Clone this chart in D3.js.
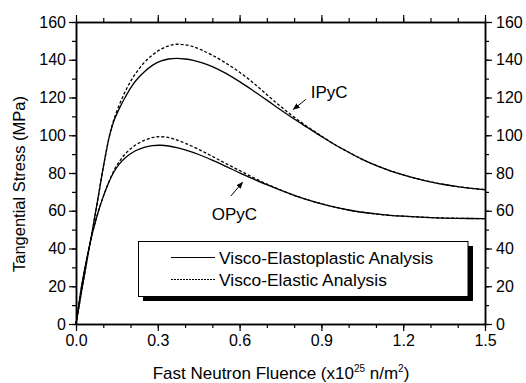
<!DOCTYPE html>
<html><head><meta charset="utf-8">
<script src="https://cdn.jsdelivr.net/npm/d3@7"></script>
<style>
body{margin:0;background:#fff;}
svg{font-family:"Liberation Sans",Arial,sans-serif;}
</style></head>
<body><svg id="c" width="526" height="383"></svg>
<script>
// ---- data ----
const xTicks = [0.0, 0.3, 0.6, 0.9, 1.2, 1.5];
const yTicks = [0, 20, 40, 60, 80, 100, 120, 140, 160];
const seriesNames = ["Visco-Elastoplastic Analysis", "Visco-Elastic Analysis"];

const ipycEPx = [0, 0.02, 0.04, 0.06, 0.08, 0.10, 0.12, 0.13, 0.14, 0.16, 0.18, 0.20, 0.22, 0.25, 0.28, 0.31, 0.34, 0.37, 0.40, 0.43, 0.46, 0.50, 0.55, 0.60, 0.65, 0.70, 0.75, 0.80, 0.85, 0.90, 0.95, 1.00, 1.05, 1.10, 1.15, 1.20, 1.25, 1.30, 1.35, 1.40, 1.45, 1.50];
const ipycEPy = [0, 17, 33.5, 49.5, 66, 83, 98, 103.5, 108, 114.5, 120, 125, 129, 133.5, 137, 139.3, 140.4, 140.7, 140.4, 139.7, 138.5, 136.4, 132.8, 128.4, 123.6, 118.6, 113.5, 108.6, 104, 99.4, 95.0, 91.0, 87.2, 84.0, 81.3, 79.0, 77.0, 75.3, 73.9, 72.8, 71.9, 71.2];

const ipycEx = [0, 0.02, 0.04, 0.06, 0.08, 0.10, 0.12, 0.13, 0.14, 0.16, 0.18, 0.20, 0.22, 0.25, 0.28, 0.31, 0.34, 0.37, 0.40, 0.43, 0.46, 0.50, 0.55, 0.60, 0.65, 0.70, 0.75, 0.80, 0.85, 0.90, 0.95, 1.00, 1.05, 1.10, 1.15, 1.20, 1.25, 1.30, 1.35, 1.40, 1.45, 1.50];
const ipycEy = [0, 17, 33.5, 49.5, 66, 83, 98, 104, 108.8, 116.5, 123, 128.5, 133, 138.5, 142.5, 145.5, 147.4, 148.2, 147.9, 146.9, 145.2, 142.4, 138.2, 133.4, 127.8, 121.5, 115.3, 109.6, 104.4, 99.6, 95.0, 91.0, 87.2, 84.0, 81.3, 79.0, 77.0, 75.3, 73.9, 72.8, 71.9, 71.2];

const opycEPx = [0, 0.01, 0.02, 0.04, 0.06, 0.08, 0.10, 0.12, 0.14, 0.16, 0.18, 0.20, 0.22, 0.25, 0.28, 0.31, 0.34, 0.37, 0.40, 0.45, 0.50, 0.55, 0.60, 0.65, 0.70, 0.75, 0.80, 0.85, 0.90, 0.95, 1.00, 1.05, 1.10, 1.15, 1.20, 1.30, 1.40, 1.50];
const opycEPy = [0, 10, 19.5, 35, 48, 58.7, 67.5, 75, 80.8, 85, 88, 90.2, 91.9, 93.6, 94.5, 94.7, 94.3, 93.4, 92.2, 89.8, 86.8, 83.5, 80.1, 76.9, 73.8, 70.9, 68.2, 65.8, 63.7, 61.9, 60.4, 59.2, 58.3, 57.6, 57.1, 56.4, 56.0, 55.8];

const opycEx = [0, 0.01, 0.02, 0.04, 0.06, 0.08, 0.10, 0.12, 0.14, 0.16, 0.18, 0.20, 0.22, 0.25, 0.28, 0.30, 0.33, 0.36, 0.40, 0.45, 0.50, 0.55, 0.60, 0.65, 0.70, 0.75, 0.80, 0.85, 0.90, 0.95, 1.00, 1.05, 1.10, 1.15, 1.20, 1.30, 1.40, 1.50];
const opycEy = [0, 10, 19.5, 35, 48, 58.7, 67.5, 75, 81.5, 86.3, 90, 92.8, 95, 97.3, 98.8, 99.2, 99, 98, 95.8, 92.5, 88.8, 85, 81.3, 77.6, 74.1, 71, 68.2, 65.8, 63.7, 61.9, 60.4, 59.2, 58.3, 57.6, 57.1, 56.4, 56.0, 55.8];

const labels = [
  {text: "IPyC", x: 0.861, y: 119.6, ax1: 0.843, ay1: 119.0, ax2: 0.797, ay2: 113.7},
  {text: "OPyC", x: 0.498, y: 55.1, ax1: 0.568, ay1: 67.8, ax2: 0.611, ay2: 75.1}
];

// ---- layout ----
const L = 76, R = 485, T = 22, B = 324;
const svg = d3.select("#c");
const x = d3.scaleLinear().domain([0, 1.5]).range([L, R]);
const y = d3.scaleLinear().domain([0, 160]).range([B, T]);

svg.append("defs").append("marker").attr("id", "ah")
  .attr("viewBox", "0 0 10 10").attr("refX", 9).attr("refY", 5)
  .attr("markerWidth", 7).attr("markerHeight", 7).attr("markerUnits", "userSpaceOnUse")
  .attr("orient", "auto")
  .append("path").attr("d", "M0,1 L10,5 L0,9 Z").attr("fill", "#000");

const minorX = d3.range(0, 1.5001, 0.1).map(v => +v.toFixed(2));
const minorY = d3.range(0, 160.01, 10);

function styleAxis(g) {
  g.select(".domain").attr("stroke", "#000").attr("stroke-width", 1.5);
  g.selectAll(".tick line").attr("stroke", "#000").attr("stroke-width", 1.2);
  g.selectAll(".tick text").attr("fill", "#000").attr("font-size", "16px");
}
// minor ticks
svg.append("g").attr("transform", `translate(0,${B})`)
  .call(d3.axisBottom(x).tickValues(minorX).tickSize(4).tickFormat("").tickSizeOuter(0)).call(styleAxis);
svg.append("g").attr("transform", `translate(0,${T})`)
  .call(d3.axisTop(x).tickValues(minorX).tickSize(4).tickFormat("").tickSizeOuter(0)).call(styleAxis);
svg.append("g").attr("transform", `translate(${L},0)`)
  .call(d3.axisLeft(y).tickValues(minorY).tickSize(4).tickFormat("").tickSizeOuter(0)).call(styleAxis);
svg.append("g").attr("transform", `translate(${R},0)`)
  .call(d3.axisRight(y).tickValues(minorY).tickSize(4).tickFormat("").tickSizeOuter(0)).call(styleAxis);
// major ticks
svg.append("g").attr("transform", `translate(0,${B})`)
  .call(d3.axisBottom(x).tickValues(xTicks).tickSize(7).tickPadding(4).tickFormat(d3.format(".1f")).tickSizeOuter(0)).call(styleAxis);
svg.append("g").attr("transform", `translate(0,${T})`)
  .call(d3.axisTop(x).tickValues(xTicks).tickSize(7).tickFormat("").tickSizeOuter(0)).call(styleAxis);
svg.append("g").attr("transform", `translate(${L},0)`)
  .call(d3.axisLeft(y).tickValues(yTicks).tickSize(7).tickPadding(3).tickSizeOuter(0)).call(styleAxis);
svg.append("g").attr("transform", `translate(${R},0)`)
  .call(d3.axisRight(y).tickValues(yTicks).tickSize(7).tickPadding(4).tickSizeOuter(0)).call(styleAxis);

// curves
const line = d3.line().x(d => x(d[0])).y(d => y(d[1])).curve(d3.curveCatmullRom.alpha(0.5));
const series = [
  {xs: ipycEx, ys: ipycEy, dash: "3,2"},
  {xs: opycEx, ys: opycEy, dash: "3,2"},
  {xs: ipycEPx, ys: ipycEPy, dash: null},
  {xs: opycEPx, ys: opycEPy, dash: null}
];
series.forEach(s => {
  svg.append("path").datum(s.xs.map((v, i) => [v, s.ys[i]]))
    .attr("d", line).attr("fill", "none").attr("stroke", "#000")
    .attr("stroke-width", 1.3).attr("stroke-dasharray", s.dash);
});

// labels + arrows
labels.forEach(l => {
  svg.append("text").attr("x", x(l.x)).attr("y", y(l.y)).attr("font-size", "17px").text(l.text);
  svg.append("line").attr("x1", x(l.ax1)).attr("y1", y(l.ay1)).attr("x2", x(l.ax2)).attr("y2", y(l.ay2))
    .attr("stroke", "#000").attr("stroke-width", 1).attr("marker-end", "url(#ah)");
});

// legend
const lg = svg.append("g");
lg.append("rect").attr("x", 143).attr("y", 246).attr("width", 330).attr("height", 55).attr("fill", "#000");
lg.append("rect").attr("x", 138.5).attr("y", 241.5).attr("width", 329.5).attr("height", 55).attr("fill", "#fff").attr("stroke", "#000").attr("stroke-width", 1);
seriesNames.forEach((n, i) => {
  const yy = 257.5 + i * 22;
  lg.append("line").attr("x1", 171).attr("x2", 215).attr("y1", yy).attr("y2", yy)
    .attr("stroke", "#000").attr("stroke-width", 1).attr("stroke-dasharray", i ? "2,1" : null);
  lg.append("text").attr("x", 219).attr("y", yy + 6.5).attr("font-size", "17.4px").text(n);
});

// axis titles
svg.append("text").attr("transform", `translate(25,184) rotate(-90)`)
  .attr("text-anchor", "middle").attr("font-size", "16.5px").text("Tangential Stress (MPa)");
const xt = svg.append("text").attr("x", 281).attr("y", 379).attr("text-anchor", "middle").attr("font-size", "17px");
xt.append("tspan").text("Fast Neutron Fluence (x10");
xt.append("tspan").attr("dy", -7).attr("font-size", "10px").text("25");
xt.append("tspan").attr("dy", 7).text(" n/m");
xt.append("tspan").attr("dy", -7).attr("font-size", "10px").text("2");
xt.append("tspan").attr("dy", 7).text(")");
</script></body></html>
